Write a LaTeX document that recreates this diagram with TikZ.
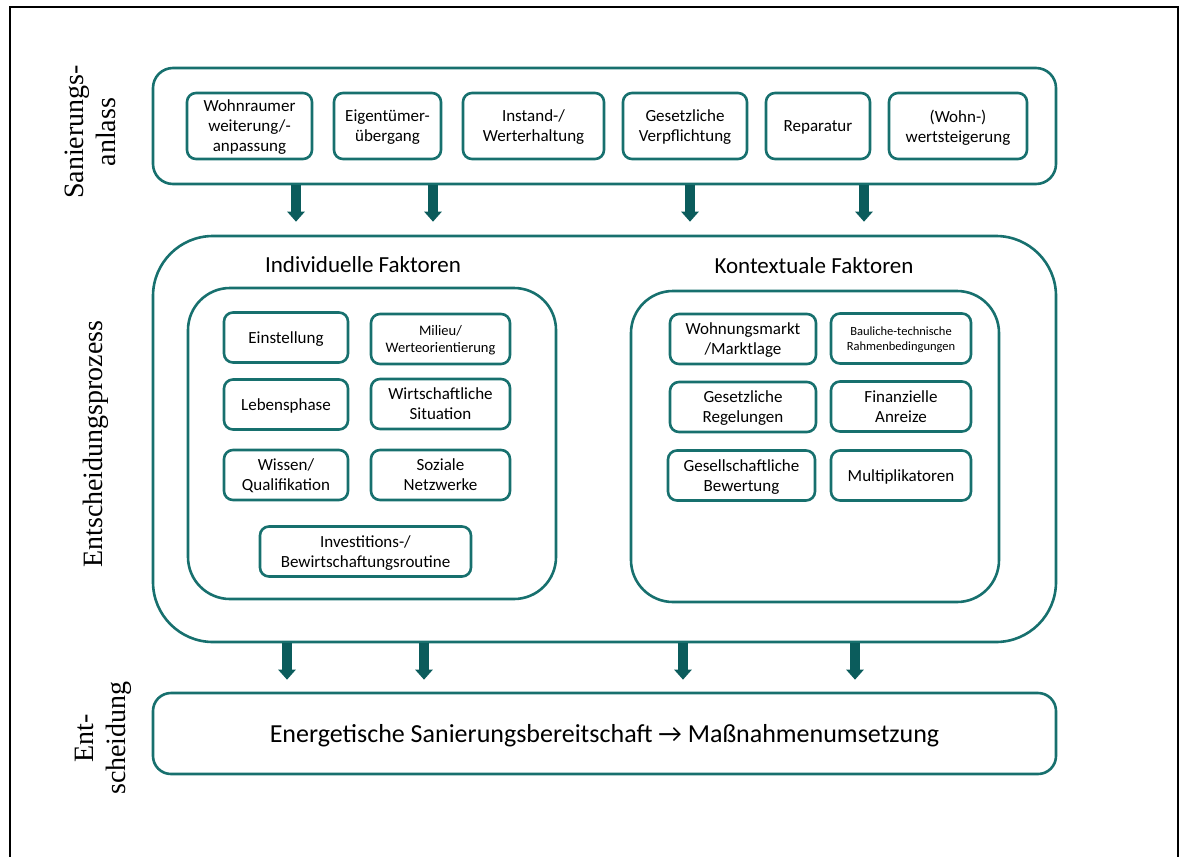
\documentclass[tikz,border=0pt]{standalone}
\usepackage{fontspec}
\setmainfont{Carlito}
\newfontfamily\labelfont{Liberation Serif}
\usetikzlibrary{arrows.meta}
\definecolor{petrol}{HTML}{17706E}
\definecolor{petroldark}{HTML}{0B5C5C}

\begin{document}
\begin{tikzpicture}[
    x=1pt, y=-1pt,
    % Styles
    rahmen/.style={draw=petrol, line width=2.6pt, rounded corners=#1,
        minimum width=903, inner sep=0pt},
    innen/.style={draw=petrol, line width=2.6pt, rounded corners=42pt,
        minimum width=368, minimum height=311},
    faktor/.style={draw=petrol, line width=2.6pt, rounded corners=9pt,
        minimum height=50, inner sep=2pt, align=center, text depth=-3pt,
        font=\fontsize{17}{20}\selectfont},
    anlass/.style={faktor, minimum height=66},
    kopf/.style={font=\fontsize{23}{27}\selectfont},
    seite/.style={rotate=90, align=center, font=\labelfont\fontsize{28}{32}\selectfont},
    pfeil/.style={draw=petroldark, line width=10pt,
        -{Triangle[width=17pt, length=10pt]}}
]
\useasboundingbox (0,0) rectangle (1184,857);

% --- Frame ---
\draw[line width=2.5pt] (10,857) -- (10,7) -- (1178,7) -- (1178,857);

% --- Side labels ---
\node[seite] (lblanlass) at (90,132) {Sanierungs-\\anlass};
\node[seite] (lblprozess) at (96,444) {Entscheidungsprozess};
\node[seite] (lblentsch) at (103,738) {Ent-\\scheidung};

% --- Sanierungsanlass ---
\node[rahmen=20pt, minimum height=116] (anlass) at (604.5,126) {};
\node[anlass, minimum width=125] (wohnraum) at (249.5,126) {Wohnraumer\\weiterung/-\\anpassung};
\node[anlass, minimum width=107] (eigentum) at (387.5,126) {Eigentümer-\\übergang};
\node[anlass, minimum width=141] (instand) at (533.5,126) {Instand-/\\Werterhaltung};
\node[anlass, minimum width=124] (verpflicht) at (685,126) {Gesetzliche\\Verpflichtung};
\node[anlass, minimum width=104] (reparatur) at (818,126) {Reparatur};
\node[anlass, minimum width=138] (wertsteig) at (958,126) {(Wohn-)\\wertsteigerung};

% --- Entscheidungsprozess ---
\node[rahmen=60pt, minimum height=406] (prozess) at (604.5,439) {};
\node[kopf] (hdrind) at (363,265) {Individuelle Faktoren};
\node[kopf] (hdrkon) at (814,266) {Kontextuale Faktoren};

\node[innen] (individ) at (372,443.5) {};
\node[innen] (kontext) at (815,446.5) {};

% Individuelle Faktoren
\node[faktor, minimum width=124] (einstellung) at (286,337.5) {Einstellung};
\node[faktor, minimum width=139, font=\fontsize{14.5}{17.5}\selectfont] (milieu) at (440.5,339) {Milieu/\\Werteorientierung};
\node[faktor, minimum width=124] (lebensphase) at (286,404.5) {Lebensphase};
\node[faktor, minimum width=139] (wirtschaft) at (440.5,404) {Wirtschaftliche\\Situation};
\node[faktor, minimum width=124] (wissen) at (286,475) {Wissen/\\Qualifikation};
\node[faktor, minimum width=139] (soziale) at (440.5,475) {Soziale\\Netzwerke};
\node[faktor, minimum width=211] (routine) at (365.5,551.5) {Investitions-/\\Bewirtschaftungsroutine};

% Kontextuale Faktoren
\node[faktor, minimum width=146] (wohnmarkt) at (743,339) {Wohnungsmarkt\\/Marktlage};
\node[faktor, minimum width=140, font=\fontsize{12.5}{15}\selectfont] (bauliche) at (901,338.5) {Bauliche-technische\\Rahmenbedingungen};
\node[faktor, minimum width=146] (regelung) at (743,407) {Gesetzliche\\Regelungen};
\node[faktor, minimum width=140] (anreize) at (901,406.5) {Finanzielle\\Anreize};
\node[faktor, minimum width=147] (bewertung) at (741.5,475.5) {Gesellschaftliche\\Bewertung};
\node[faktor, minimum width=140] (multi) at (901,475.5) {Multiplikatoren};

% --- Entscheidung ---
\node[rahmen=18pt, minimum height=81, text depth=-4pt, font=\fontsize{26}{30}\selectfont] (entscheid) at (604.5,733.5)
    {Energetische Sanierungsbereitschaft → Maßnahmenumsetzung};

% --- Arrows ---
\foreach \x in {296,433,690,864}
    \draw[pfeil, shorten >=13pt] (anlass.south -| \x,0) -- (prozess.north -| \x,0);
\foreach \x in {287,424,683,855}
    \draw[pfeil, shorten >=12pt] (prozess.south -| \x,0) -- (entscheid.north -| \x,0);

\end{tikzpicture}
\end{document}
